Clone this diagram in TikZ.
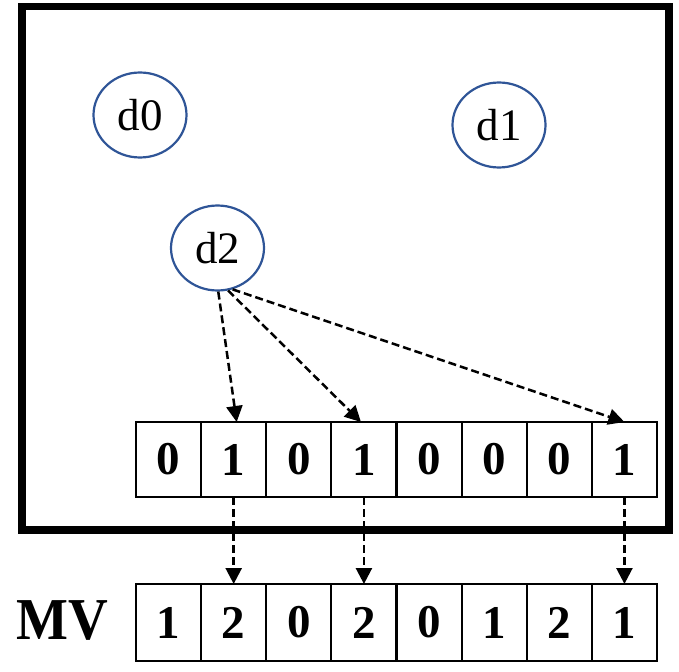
\documentclass[tikz,border=0pt]{standalone}
\usepackage{fontspec}
\setmainfont{Liberation Serif}
\usepackage{tikz}
\usetikzlibrary{arrows.meta, positioning, shapes.geometric}
\definecolor{ringblue}{HTML}{2F5597}

\begin{document}
\begin{tikzpicture}[
  x=1pt, y=-1pt,
  every node/.style={align=center},
  dnode/.style={draw=ringblue, line width=2.2pt, ellipse, inner sep=0pt,
                minimum width=93pt, minimum height=85pt, font=\fontsize{45}{50}\selectfont},
  cell/.style={draw, line width=2pt, minimum width=65.1pt, inner sep=0pt,
               outer sep=0pt, font=\fontsize{47}{50}\selectfont\bfseries},
  darr/.style={-{Triangle[length=16pt, width=16pt]}, line width=2.5pt,
               dash pattern=on 8pt off 4pt}
]
  \useasboundingbox (0,0) rectangle (679,671);

  % outer frame
  \draw[line width=7.5pt] (22,6.5) rectangle (669,530);

  \node[dnode] (d0) at (140,115) {d0};
  \node[dnode] (d1) at (499,125) {d1};
  \node[dnode] (d2) at (217.5,248) {d2};

  % bitmap row and MV row
  \foreach \v [count=\i] in {0,1,0,1,0,0,0,1}
    \node[cell, minimum height=75pt] (b\i) at ({136+(\i-0.5)*65.125},459.5) {\v};
  \foreach \v [count=\i] in {1,2,0,2,0,1,2,1}
    \node[cell, minimum height=77pt] (m\i) at ({136+(\i-0.5)*65.125},622.5) {\v};
  \node[font=\fontsize{55}{58}\selectfont\bfseries, left=24pt of m1, yshift=2pt] (mv)
       {\scalebox{1}[1.08]{MV}};

  \draw[darr] (d2.-89) -- ([xshift=3pt]b2.north);
  \draw[darr] (d2.-76) -- ([xshift=-3pt]b4.north);
  \draw[darr] (d2.-70) -- (b8.north);

  \foreach \i in {2,4,8}
    \draw[darr] (b\i.south) -- (m\i.north);
\end{tikzpicture}
\end{document}
